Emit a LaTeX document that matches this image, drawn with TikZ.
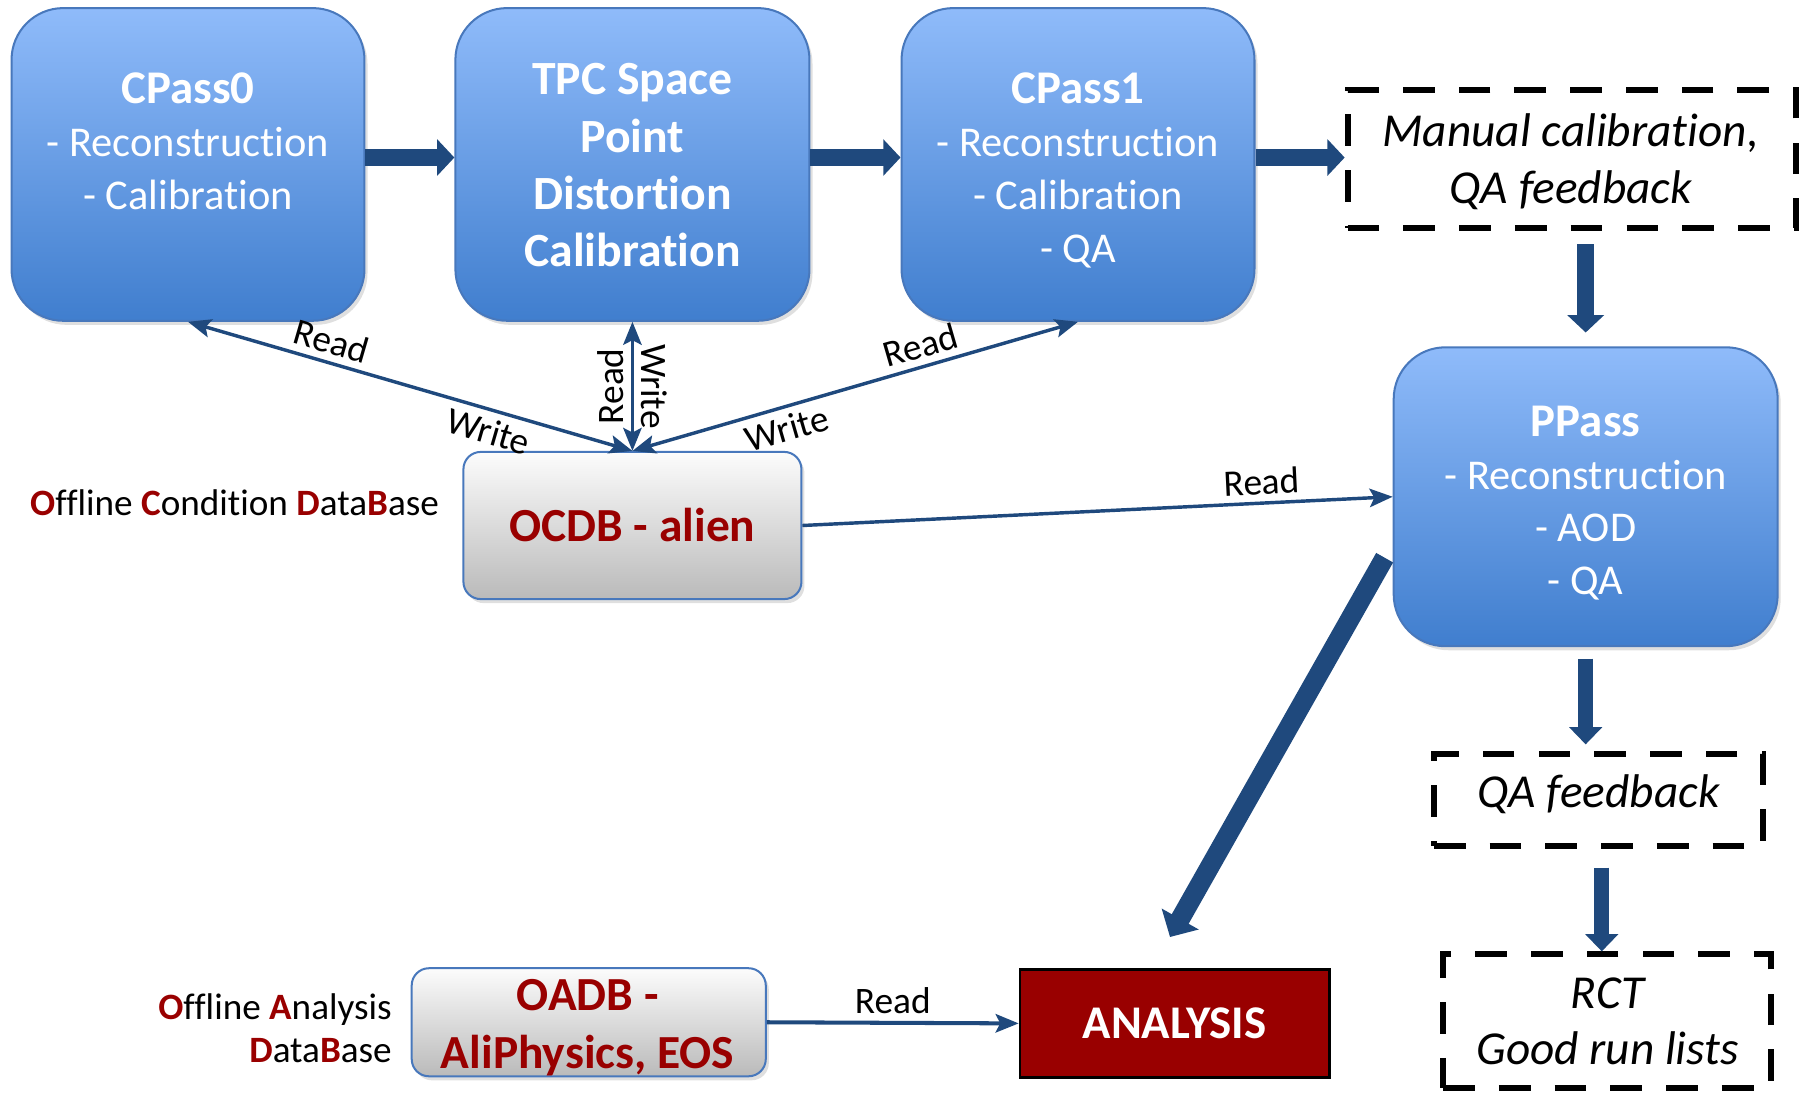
\documentclass[tikz,border=0pt]{standalone}
\usepackage{fontspec}
\setmainfont{Carlito}[RawFeature={-liga;-clig;-dlig;-calt}]
\usetikzlibrary{arrows.meta,calc,shadows}
\definecolor{arrblue}{RGB}{31,73,125}
\definecolor{boxtop}{RGB}{143,187,250}
\definecolor{boxbot}{RGB}{64,126,206}
\definecolor{boxline}{RGB}{72,120,188}
\definecolor{dred}{RGB}{153,0,0}
\definecolor{graytop}{RGB}{252,252,252}
\definecolor{graybot}{RGB}{186,186,186}
\newcommand\ttlfont{\fontsize{23.2}{26.1}\selectfont\bfseries}
\newcommand\dr[1]{\textcolor{dred}{\textbf{#1}}}
\begin{document}
\begin{tikzpicture}[x=0.02cm,y=-0.02cm,
  myS/.tip={Stealth[length=0.4cm,width=0.32cm,inset=0.08cm]},
  bluebox/.style={draw=boxline, line width=1pt, rounded corners=0.9cm, top color=boxtop, bottom color=boxbot, drop shadow={opacity=0.25, shadow xshift=1.5pt, shadow yshift=-2pt}},
  graybox/.style={draw=boxline, line width=1pt, rounded corners=0.3cm, top color=graytop, bottom color=graybot, drop shadow={opacity=0.25, shadow xshift=1.5pt, shadow yshift=-2pt}},
  dashbox/.style={draw=black, line width=3pt, dash pattern=on 0.55cm off 0.42cm},
  wtxt/.style={text=white, align=center, inner sep=0pt, anchor=base, font=\fontsize{21}{26.1}\selectfont},
  itxt/.style={align=center, inner sep=0pt, anchor=base, font=\fontsize{23.4}{28.4}\selectfont\itshape},
  rtxt/.style={text=dred, align=center, inner sep=0pt, anchor=base, font=\fontsize{23.5}{28.4}\selectfont\bfseries},
  lbl/.style={font=\fontsize{18.5}{22}\selectfont, text=black},
  side/.style={font=\fontsize{18.4}{21.5}\selectfont, inner sep=0pt, anchor=base east, align=right},
  conn/.style={draw=arrblue, line width=1.7pt},
  block/.style={draw=arrblue, line width=8.5pt, -{Triangle[length=0.3cm,width=0.62cm]}},
  blocksm/.style={draw=arrblue, line width=7.4pt, -{Triangle[length=0.3cm,width=0.56cm]}},
]
\useasboundingbox (0,0) rectangle (1568,951);

% boxes
\node[bluebox, minimum width=6.14cm, minimum height=5.44cm] (cp0) at (163.5,143) {};
\node[bluebox, minimum width=6.16cm, minimum height=5.44cm] (tpc) at (550,143) {};
\node[bluebox, minimum width=6.14cm, minimum height=5.44cm] (cp1) at (937.5,143) {};
\node[bluebox, minimum width=6.68cm, minimum height=5.2cm] (pp) at (1379,432) {};
\node[dashbox, minimum width=7.8cm, minimum height=2.4cm] (man) at (1367,138) {};
\node[dashbox, minimum width=5.72cm, minimum height=1.6cm] (qa) at (1390,696) {};
\node[dashbox, minimum width=5.7cm, minimum height=2.32cm] (rct) at (1397.5,888) {};
\node[graybox, minimum width=5.88cm, minimum height=2.56cm, text=dred, font=\fontsize{23.5}{28.4}\selectfont\bfseries] (ocdb) at (550,457) {OCDB - alien};
\node[graybox, minimum width=6.16cm, minimum height=1.88cm] (oadb) at (512,889) {};
\node[draw=black, line width=1.3pt, fill=dred, text=white, minimum width=5.38cm, minimum height=1.88cm, font=\fontsize{23.2}{28}\selectfont\bfseries] (ana) at (1021.5,890) {ANALYSIS};

% texts (anchor = baseline of last line)
\node[wtxt] (cp0t) at (163.5,182) {{\ttlfont CPass0}\\- Reconstruction\\- Calibration};
\node[wtxt, font=\fontsize{23.6}{28.4}\selectfont\bfseries] (tpct) at (550,232) {TPC Space\\Point\\Distortion\\Calibration};
\node[wtxt] (cp1t) at (937.5,228) {{\ttlfont CPass1}\\- Reconstruction\\- Calibration\\- QA};
\node[wtxt] (ppt) at (1379,517) {{\ttlfont PPass}\\- Reconstruction\\- AOD\\- QA};
\node[itxt] (mant) at (1366,177) {Manual calibration,\\QA feedback};
\node[itxt] (qat) at (1390,702) {QA feedback};
\node[itxt, font=\fontsize{23.4}{27.8}\selectfont\itshape] (rctt) at (1398,926) {RCT\\Good run lists};
\node[rtxt] (oadbt) at (511,929) {OADB -\\AliPhysics, EOS};
\node[side] (ocdbl) at (382,448) {\dr{O}ffline \dr{C}ondition \dr{D}ata\dr{B}ase};
\node[side] (oadbl) at (341,924) {\dr{O}ffline \dr{A}nalysis\\\dr{D}ata\dr{B}ase};

% thin connectors
\draw[conn, myS-myS] (cp0.south) -- node[lbl, sloped, above, pos=0.31] (r1) {Read} node[lbl, sloped, below, pos=0.69] (w1) {Write} (ocdb.north);
\draw[conn, myS-myS] (tpc.south) -- node[lbl, rotate=90, anchor=south] (r2) {Read} node[lbl, rotate=-90, anchor=south] (w2) {Write} (ocdb.north);
\draw[conn, myS-myS] (cp1.south) -- node[lbl, sloped, above, pos=0.34] (r3) {Read} node[lbl, sloped, below, pos=0.667] (w3) {Write} (ocdb.north);
\draw[conn, -myS] (ocdb.east) -- node[lbl, sloped, above, pos=0.78] (r4) {Read} (pp.west);
\draw[conn, line width=2pt, -myS] (oadb.east) -- node[lbl, above] (r5) {Read} (ana.west);

% block arrows
\draw[block] ($(cp0.east)+(0,-6)$) -- ($(tpc.west)+(0,-6)$);
\draw[block] ($(tpc.east)+(0,-6)$) -- ($(cp1.west)+(0,-6)$);
\draw[block] ($(cp1.east)+(0,-6)$) coordinate (a3) -- (a3 -| man.west);
\draw[block] ($(man.south -| pp.north)+(0,12)$) -- ($(pp.north)+(0,-12)$);
\draw[blocksm] ($(pp.south)+(0,10)$) -- ($(qa.north -| pp.south)+(0,-6)$);
\draw[blocksm] ($(qa.south)+(3,16)$) coordinate (q1) -- (q1 |- rct.north);
\draw[draw=arrblue, line width=9.6pt, -{Triangle[length=0.36cm,width=0.72cm]}] ($(pp.west)+(-7,53)$) -- ($(ana.north)+(-4,-27)$);
\end{tikzpicture}
\end{document}
